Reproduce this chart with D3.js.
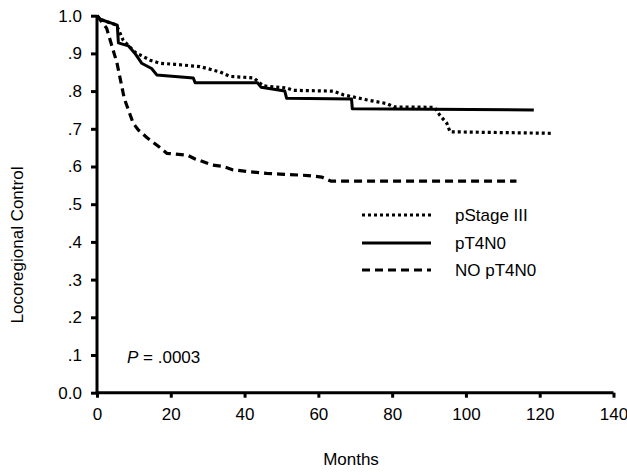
<!DOCTYPE html>
<html lang="en">
<head>
	<meta charset="utf-8">
	<title>Locoregional Control</title>
	<script src="https://d3js.org/d3.v7.min.js"></script>
	<style>
		body { margin: 0; background: #fff; }
		text { font-family: "Liberation Sans", Arial, sans-serif; fill: #000; }
	</style>
</head>
<body>
	<chart></chart>
	<script>
		// Kaplan-Meier style curves (months, proportion)
		var stageMonths = [0, 1, 5.3, 7.1, 10.3, 14.4, 17, 21.1, 27.9, 33.3, 36, 42.5, 45, 51.4, 53.2, 64, 66.8, 73, 78.5, 80.5, 91.5, 93, 94.8, 95.7, 123.7];
		var stageValues = [1.0, 0.99, 0.975, 0.935, 0.903, 0.882, 0.874, 0.871, 0.865, 0.851, 0.839, 0.835, 0.814, 0.808, 0.802, 0.80, 0.79, 0.777, 0.767, 0.758, 0.757, 0.735, 0.715, 0.692, 0.688];

		var t4Months = [0, 1, 5.5, 5.8, 8.5, 10.3, 12.1, 14.8, 16.2, 26.1, 26.6, 43.5, 44.5, 50.9, 51.4, 69, 69.2, 118.4];
		var t4Values = [1.0, 0.99, 0.975, 0.928, 0.92, 0.9, 0.874, 0.86, 0.843, 0.835, 0.822, 0.822, 0.81, 0.80, 0.781, 0.779, 0.753, 0.75];

		var noT4Months = [0, 2.6, 5.4, 7.4, 9.8, 11.2, 13.5, 17.1, 18.9, 24.5, 26.6, 31.3, 34.2, 36.9, 41.5, 46, 49.6, 57.3, 60.9, 63.5, 113.7];
		var noT4Values = [1.0, 0.967, 0.875, 0.78, 0.715, 0.697, 0.677, 0.65, 0.635, 0.63, 0.62, 0.604, 0.6, 0.591, 0.586, 0.582, 0.58, 0.576, 0.572, 0.561, 0.561];

		var seriesNames = ["pStage III", "pT4N0", "NO pT4N0"];
		var xTicks = [0, 20, 40, 60, 80, 100, 120, 140];
		var yTicks = [0, 0.1, 0.2, 0.3, 0.4, 0.5, 0.6, 0.7, 0.8, 0.9, 1.0];
		var yTickLabels = ["0.0", ".1", ".2", ".3", ".4", ".5", ".6", ".7", ".8", ".9", "1.0"];

		var W = 627, H = 475;
		var margin = { top: 15.7, right: 13.5, bottom: 82.3, left: 97 },
			width = W - margin.left - margin.right,
			height = H - margin.top - margin.bottom;

		var svg = d3.select("chart")
			.append("svg")
			.attr("width", W)
			.attr("height", H)
			.append("g")
			.attr("transform", "translate(" + margin.left + "," + margin.top + ")");

		var x = d3.scaleLinear().domain([0, 140]).range([0, width]);
		var y = d3.scaleLinear().domain([0, 1]).range([height, 0]);

		var styles = [
			{ dash: "3,3", w: 3.2 },
			{ dash: null, w: 3 },
			{ dash: "8,5", w: 3.2 }
		];
		var series = [
			d3.zip(stageMonths, stageValues),
			d3.zip(t4Months, t4Values),
			d3.zip(noT4Months, noT4Values)
		];

		var line = d3.line()
			.x(function (d) { return x(d[0]); })
			.y(function (d) { return y(d[1]); });

		// Curves
		series.forEach(function (s, i) {
			svg.append("path")
				.datum(s)
				.attr("fill", "none")
				.attr("stroke", "#000")
				.attr("stroke-width", styles[i].w)
				.attr("stroke-dasharray", styles[i].dash)
				.attr("stroke-linejoin", "round")
				.attr("d", line);
		});

		// Axes
		var xAxis = d3.axisBottom(x).tickValues(xTicks).tickSize(5).tickSizeOuter(0).tickPadding(10);
		var yAxis = d3.axisLeft(y).tickValues(yTicks).tickSize(6).tickSizeOuter(0).tickPadding(9)
			.tickFormat(function (d, i) { return yTickLabels[i]; });

		var gx = svg.append("g")
			.attr("transform", "translate(0," + height + ")")
			.call(xAxis);
		var gy = svg.append("g").call(yAxis);

		[gx, gy].forEach(function (g) {
			g.select(".domain").attr("stroke", "#000").attr("stroke-width", 3);
			g.selectAll(".tick line").attr("stroke", "#000").attr("stroke-width", 3);
			g.selectAll(".tick text")
				.attr("font-size", 17)
				.attr("font-family", "Liberation Sans, Arial, sans-serif")
				.attr("fill", "#000");
		});
		gx.select(".domain").attr("d", "M0,0H" + width);
		gy.select(".domain").attr("d", "M0," + height + "V0");

		// Axis titles
		svg.append("text")
			.attr("x", 351 - margin.left)
			.attr("y", 465 - margin.top)
			.attr("text-anchor", "middle")
			.attr("font-size", 17)
			.text("Months");

		svg.append("text")
			.attr("transform", "translate(" + (23 - margin.left) + "," + (245 - margin.top) + ") rotate(-90)")
			.attr("text-anchor", "middle")
			.attr("font-size", 17)
			.text("Locoregional Control");

		// Legend
		var legendY = [215, 243, 270];
		var legend = svg.append("g").attr("transform", "translate(" + (362 - margin.left) + ",0)");
		seriesNames.forEach(function (name, i) {
			var ly = legendY[i] - margin.top;
			legend.append("line")
				.attr("x1", 0).attr("x2", 69)
				.attr("y1", ly).attr("y2", ly)
				.attr("stroke", "#000")
				.attr("stroke-width", styles[i].w)
				.attr("stroke-dasharray", styles[i].dash);
			legend.append("text")
				.attr("x", 93)
				.attr("y", ly + 6)
				.attr("font-size", 17)
				.text(name);
		});

		// P value
		var pText = svg.append("text")
			.attr("x", 127 - margin.left)
			.attr("y", 363 - margin.top)
			.attr("font-size", 17);
		pText.append("tspan").attr("font-style", "italic").text("P");
		pText.append("tspan").text(" = .0003");
	</script>
</body>
</html>
